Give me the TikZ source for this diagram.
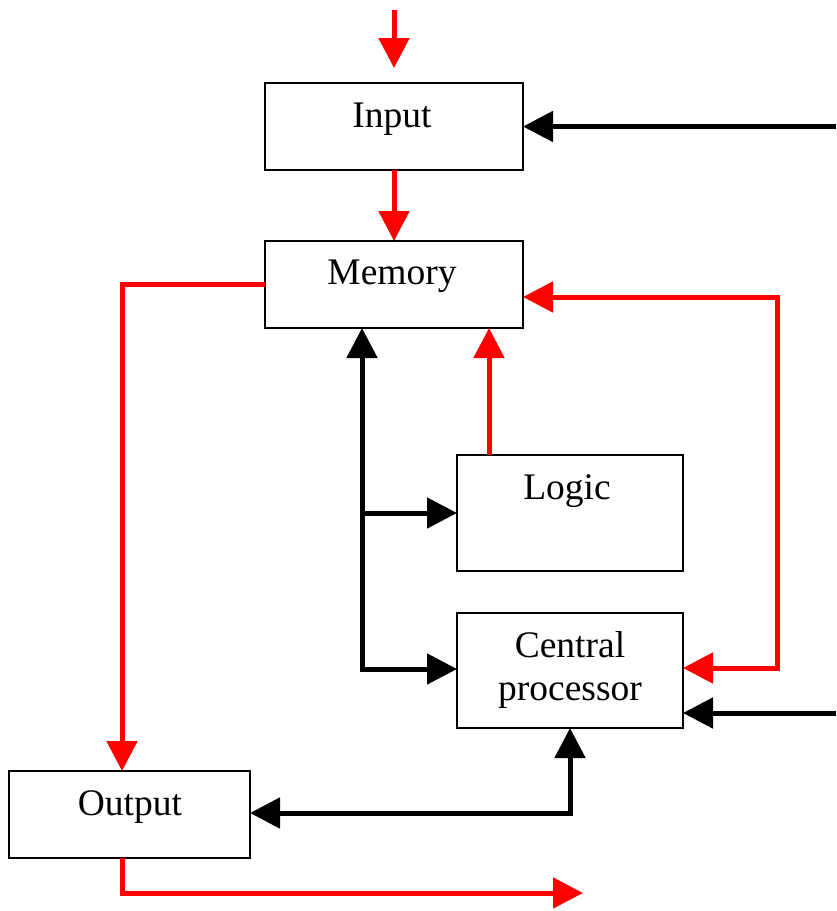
\documentclass[tikz,border=0pt]{standalone}
\usepackage{fontspec}
\setmainfont{Liberation Serif}
\usetikzlibrary{arrows.meta,calc}
\begin{document}
\begin{tikzpicture}[x=1pt,y=-1pt,
  box/.style={draw=black,line width=2.2pt,rectangle,inner sep=0pt,outer sep=0pt},
  lbl/.style={anchor=base,inner sep=0pt,font=\fontsize{37.5}{42}\selectfont},
  tip/.tip={Triangle[width=30pt,length=30pt]},
  redline/.style={draw=red,line width=5pt},
  blackline/.style={draw=black,line width=5pt}]
\useasboundingbox (0,0) rectangle (836,911);
% boxes
\node[box,minimum width=258pt,minimum height=87pt] (input) at (394,126.5) {};
\node[box,minimum width=258pt,minimum height=87pt] (memory) at (394,284.5) {};
\node[box,minimum width=226pt,minimum height=116pt] (logic) at (570,513) {};
\node[box,minimum width=226pt,minimum height=115pt] (cp) at (570,670.5) {};
\node[box,minimum width=241pt,minimum height=87pt] (output) at (129.5,814.5) {};
% labels
\node[lbl] (inputl) at (392,127) {Input};
\node[lbl] (memoryl) at (392,284) {Memory};
\node[lbl] (logicl) at (567,499) {Logic};
\node[lbl] (cpl1) at (570,657) {Central};
\node[lbl] (cpl2) at (570,700) {processor};
\node[lbl] (outputl) at (130,815) {Output};
% helper coordinates
\coordinate (intop) at (394,10);
\coordinate (intip) at (394,68);
\coordinate (inright) at (836,126.5);
\coordinate (cpright) at (836,713);
\coordinate (rx) at (489,0);
\coordinate (bx) at (362,0);
\coordinate (ox) at (122,0);
\coordinate (loopx) at (777,0);
\coordinate (outend) at (583,893);
% connectors
\draw[redline,-{tip}] (intop) -- (intip);
\draw[redline,-{tip}] (input.south) -- (memory.north);
\draw[blackline,-{tip}] (inright) -- (input.east);
\draw[redline,-{tip}] (memory.west) -| (ox |- output.north);
\draw[redline,{tip}-{tip}] ($(memory.east)+(0,12.5)$) -| ($(loopx |- cp.east)+(0,-2.5)$) -- ($(cp.east)+(0,-2.5)$);
\draw[redline,-{tip}] (rx |- logic.north) -- (rx |- memory.south);
\draw[blackline,{tip}-{tip}] (bx |- memory.south) |- ($(cp.west)+(0,-1.5)$);
\draw[blackline,-{tip}] (bx |- logic.west) -- (logic.west);
\draw[blackline,-{tip}] (cpright) -- ($(cp.east)+(0,42.5)$);
\draw[blackline,{tip}-{tip}] (cp.south) |- ($(output.east)+(0,-1.5)$);
\draw[redline,-{tip}] (ox |- output.south) |- (outend);
\end{tikzpicture}
\end{document}
